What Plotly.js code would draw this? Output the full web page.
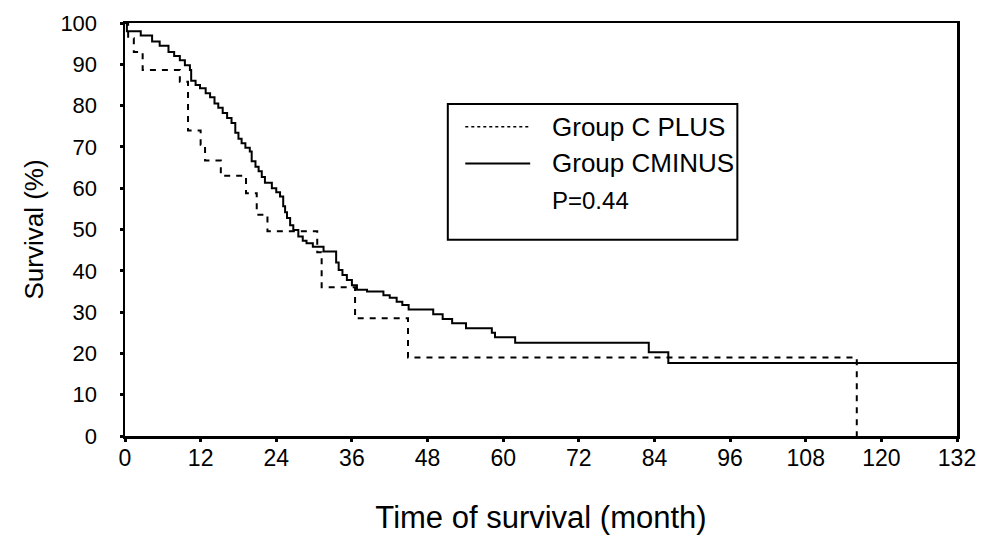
<!DOCTYPE html>
<html>
<head>
<meta charset="utf-8">
<script src="https://cdn.plot.ly/plotly-3.0.1.min.js"></script>
<style>
  html, body { margin: 0; padding: 0; background: #ffffff; }
  #chart { width: 992px; height: 543px; }
</style>
</head>
<body>
<div id="chart"></div>
<script>
// Kaplan-Meier survival estimates, months vs. percent surviving
const monthsMinus = [0, 0.3, 2.5, 4.3, 5.5, 6.9, 7.8, 8.7, 9.5, 10.3, 10.5, 11.2, 11.9, 12.8, 13.5, 14.2, 14.8, 15.5, 16.2, 16.9,
  17.5, 18.0, 18.5, 19.1, 19.8, 20.1, 20.7, 21.2, 21.7, 22.2, 23.3, 24.0, 24.6, 25.1, 25.4, 25.7, 26.2, 26.7, 27.5, 28.2,
  28.8, 29.8, 31.5, 33.5, 33.9, 34.5, 35.2, 36.0, 36.8, 38.4, 41.0, 42.0, 43.1, 44.0, 45.0, 48.9, 50.4, 51.9, 54.1, 58.2,
  58.7, 61.9, 83.1, 86.2, 132];
const survMinus = [100, 98.0, 97.0, 95.5, 94.5, 93.0, 92.0, 91.0, 89.8, 88.6, 86.0, 85.0, 84.2, 83.0, 82.0, 80.5, 79.5, 78.2, 77.0, 75.8,
  73.4, 72.0, 70.9, 69.8, 68.9, 66.5, 65.2, 64.1, 62.7, 61.3, 60.0, 59.0, 58.0, 55.6, 54.2, 52.8, 51.0, 49.9, 48.3, 47.3,
  46.7, 45.8, 44.7, 42.0, 40.2, 39.0, 37.8, 36.5, 35.4, 35.0, 34.1, 33.5, 32.5, 31.7, 30.6, 29.5, 28.3, 27.3, 26.1, 25.0,
  23.9, 22.6, 20.3, 17.7, 17.7];

const monthsPlus = [0, 0.5, 1.4, 2.8, 8.7, 10.0, 12.0, 12.7, 15.2, 19.2, 20.9, 22.6, 30.5, 31.2, 36.5, 44.9, 116.1];
const survPlus = [100, 96.3, 93.0, 88.6, 85.8, 74.0, 70.5, 66.7, 63.0, 58.8, 53.6, 49.6, 44.5, 36.0, 28.5, 19.0, 0];

const xTicks = [0, 12, 24, 36, 48, 60, 72, 84, 96, 108, 120, 132];
const yTicks = [0, 10, 20, 30, 40, 50, 60, 70, 80, 90, 100];

const groupNames = ['Group C PLUS', 'Group CMINUS'];
const pValueText = 'P=0.44';

const FONT = '"Liberation Sans", Arial, Helvetica, sans-serif';

const traces = [
  {
    x: monthsPlus, y: survPlus, name: groupNames[0], type: 'scatter', mode: 'lines',
    line: { shape: 'hv', color: '#000000', width: 2, dash: '6px,6px' },
    hoverinfo: 'x+y'
  },
  {
    x: monthsMinus, y: survMinus, name: groupNames[1], type: 'scatter', mode: 'lines',
    line: { shape: 'hv', color: '#000000', width: 2 },
    hoverinfo: 'x+y'
  }
];

// legend box drawn inside the plot area
const legX0 = 0.388, legX1 = 0.736, legY0 = 0.475, legY1 = 0.804;
const sampleX0 = 0.409, sampleX1 = 0.487, textX = 0.511;
const rowY = [0.749, 0.660, 0.571];

const shapes = [
  { type: 'rect', xref: 'paper', yref: 'paper', x0: legX0, x1: legX1, y0: legY0, y1: legY1,
    line: { color: '#000000', width: 2 }, fillcolor: 'rgba(0,0,0,0)' },
  { type: 'line', xref: 'paper', yref: 'paper', x0: sampleX0, x1: sampleX1, y0: rowY[0], y1: rowY[0],
    line: { color: '#000000', width: 1.5, dash: 'dot' } },
  { type: 'line', xref: 'paper', yref: 'paper', x0: sampleX0, x1: sampleX1, y0: rowY[1], y1: rowY[1],
    line: { color: '#000000', width: 2 } }
];

const legendTexts = [groupNames[0], groupNames[1], pValueText];
const annotations = legendTexts.map((t, i) => ({
  xref: 'paper', yref: 'paper', x: textX, y: rowY[i], xanchor: 'left', yanchor: 'middle',
  text: t, showarrow: false, font: { family: FONT, size: i === 2 ? 24 : 26, color: '#000000' }
}));

const layout = {
  width: 992, height: 543,
  margin: { l: 125, r: 35, t: 23, b: 107 },
  paper_bgcolor: '#ffffff', plot_bgcolor: '#ffffff',
  showlegend: false,
  font: { family: FONT, color: '#000000' },
  xaxis: {
    range: [0, 132], tickvals: xTicks, ticktext: xTicks.map(String),
    showgrid: false, zeroline: false, showline: true, mirror: true,
    linecolor: '#000000', linewidth: 2.5,
    ticks: 'outside', ticklen: 3, tickwidth: 3, tickcolor: '#000000',
    tickfont: { family: FONT, size: 23, color: '#000000' },
    ticklabelstandoff: -3,
    title: { text: 'Time of survival (month)', font: { family: FONT, size: 31, color: '#000000' }, standoff: 36 }
  },
  yaxis: {
    range: [0, 100], tickvals: yTicks, ticktext: yTicks.map(String),
    showgrid: false, zeroline: false, showline: true, mirror: true,
    linecolor: '#000000', linewidth: 2.5,
    ticks: 'outside', ticklen: 3, tickwidth: 3, tickcolor: '#000000',
    tickfont: { family: FONT, size: 22, color: '#000000' },
    ticklabelstandoff: 18,
    title: { text: 'Survival (%)', font: { family: FONT, size: 26, color: '#000000' }, standoff: 10 }
  },
  shapes: shapes,
  annotations: annotations
};

Plotly.newPlot('chart', traces, layout, { displayModeBar: false, staticPlot: true });
</script>
</body>
</html>
